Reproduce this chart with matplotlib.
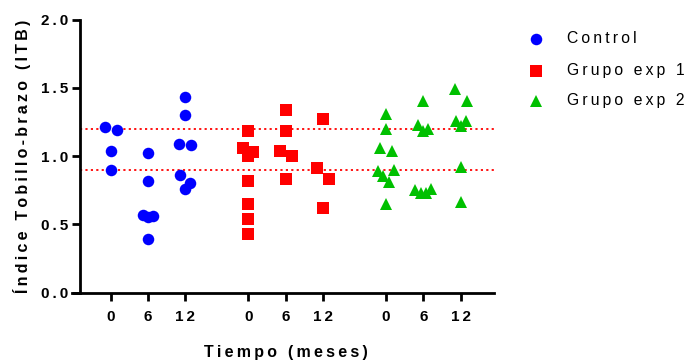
import numpy as np
import matplotlib
matplotlib.use("Agg")
import matplotlib.pyplot as plt

plt.rcParams['font.family'] = ['Liberation Sans', 'DejaVu Sans']

# datos (ITB por grupo y tiempo)
tiempos = ["0", "6", "12"]
grupos = ["Control", "Grupo exp 1", "Grupo exp 2"]

control_0 = [1.21, 1.19, 1.04, 0.90]
control_6 = [1.02, 0.82, 0.57, 0.56, 0.55, 0.39]
control_12 = [1.43, 1.30, 1.09, 1.08, 0.86, 0.80, 0.76]

exp1_0 = [1.18, 1.06, 1.03, 1.00, 0.82, 0.65, 0.54, 0.43]
exp1_6 = [1.34, 1.18, 1.04, 1.00, 0.83]
exp1_12 = [1.27, 0.91, 0.83, 0.62]

exp2_0 = [1.31, 1.20, 1.06, 1.04, 0.90, 0.89, 0.85, 0.81, 0.65]
exp2_6 = [1.40, 1.23, 1.20, 1.18, 0.76, 0.75, 0.73, 0.73]
exp2_12 = [1.49, 1.40, 1.26, 1.26, 1.22, 0.92, 0.66]

limites = [1.2, 0.9]

datos = [[control_0, control_6, control_12],
         [exp1_0, exp1_6, exp1_12],
         [exp2_0, exp2_6, exp2_12]]
colores = ["#0000ff", "#ff0000", "#00c000"]
marcadores = ["o", "s", "^"]
tamanos = [8.3, 8.4, 9]


def esp(s):
    # espaciado entre letras como en Prism
    return "\u2009".join(s)


W, H = 689, 362
fig = plt.figure(figsize=(W / 100, H / 100), dpi=100)
x0, x1, y0, y1 = 80, 494, 292.5, 19.5
ax = fig.add_axes([x0 / W, 1 - y0 / H, (x1 - x0) / W, (y0 - y1) / H])

paso = 37.3      # px entre 0, 6 y 12
salto = 3.69     # separacion entre grupos (en unidades de paso)
px_y = (y0 - y1) / 2.0

# patrones de dispersion horizontal (px) segun el tamano del racimo
patrones = {1: [0], 2: [-6, 6], 3: [-5, 5, 0], 4: [8, -8, -2.7, 2.7]}


def dispersion(vals, d=13.0):
    vals = np.array(vals)
    idx = list(np.argsort(-vals, kind="stable"))
    racimos = [[idx[0]]]
    for a, b in zip(idx[:-1], idx[1:]):
        if (vals[a] - vals[b]) * px_y < d:
            racimos[-1].append(b)
        else:
            racimos.append([b])
    off = np.zeros(len(vals))
    for r in racimos:
        p = patrones.get(len(r), list(np.linspace(-8, 8, len(r))))
        for j, i in enumerate(r):
            off[i] = p[j]
    return off / paso


ticks = []
etiquetas = []
for k in range(3):
    for i in range(3):
        xc = k * salto + i
        ticks.append(xc)
        etiquetas.append(esp(tiempos[i]))
        v = datos[k][i]
        ax.plot(xc + dispersion(v), v, linestyle="none", marker=marcadores[k],
                color=colores[k], markersize=tamanos[k], markeredgewidth=0,
                clip_on=False, zorder=3)

for l in limites:
    ax.axhline(l, color="#ff0000", linestyle=(0, (1.2, 1.8)), linewidth=1.3, zorder=1)

ax.set_xlim(-(110.7 - x0) / paso, (x1 - 110.7) / paso)
ax.set_ylim(0, 2.0)
ax.spines['top'].set_visible(False)
ax.spines['right'].set_visible(False)
for s in ['left', 'bottom']:
    ax.spines[s].set_linewidth(2)
ax.spines['bottom'].set_bounds(-(110.7 - 72) / paso, (x1 - 110.7) / paso)

ax.set_xticks(ticks)
ax.set_xticklabels(etiquetas, fontsize=11, fontweight="bold")
yt = [0.0, 0.5, 1.0, 1.5, 2.0]
ax.set_yticks(yt)
ax.set_yticklabels([esp(f"{v:.1f}") for v in yt], fontsize=11, fontweight="bold")
ax.tick_params(axis="x", length=5.5, width=2, pad=7)
ax.tick_params(axis="y", length=5.5, width=2, pad=3)

fig.text(286 / W, 1 - 352 / H, esp("Tiempo (meses)"), fontsize=11.5,
         fontweight="bold", ha="center", va="center")
fig.text(22 / W, 1 - 156 / H, esp("Índice Tobillo-brazo (ITB)"), fontsize=11.5,
         fontweight="bold", ha="center", va="center", rotation=90)

# leyenda
ys = [38.5, 70.5, 101]
for k in range(3):
    fig.add_artist(plt.Line2D([536 / W], [1 - ys[k] / H], marker=marcadores[k],
                              color=colores[k], markersize=tamanos[k],
                              markeredgewidth=0, linestyle="none"))
    fig.text(567 / W, 1 - ys[k] / H, esp(grupos[k]), fontsize=11.3,
             ha="left", va="center")

fig.savefig("out.png", dpi=100)
